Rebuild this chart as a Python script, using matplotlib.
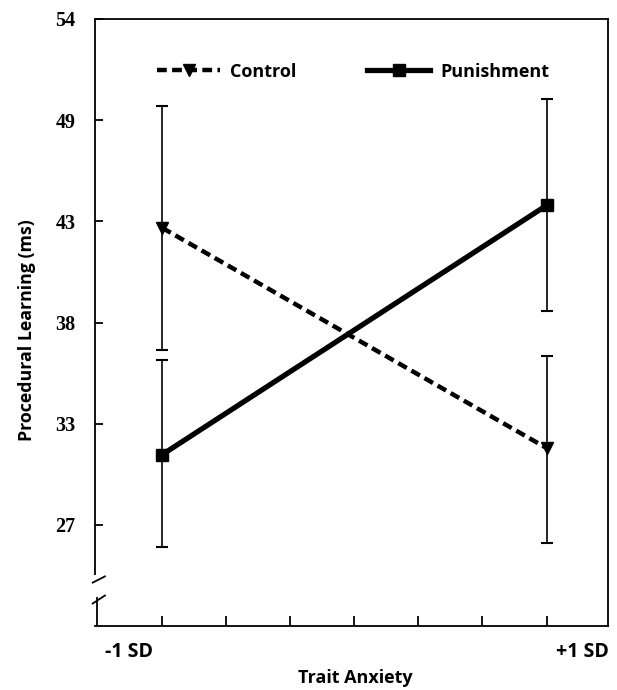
import numpy as np
import matplotlib
matplotlib.use("Agg")
import matplotlib.pyplot as plt

# ---- data ----
x_pos = [-1.0, 1.0]
x_labels = ["-1 SD", "+1 SD"]
control_mean = [42.85, 31.10]
control_low = [36.35, 26.05]
control_high = [49.35, 36.00]
punish_mean = [30.75, 44.05]
punish_low = [25.80, 38.40]
punish_high = [35.80, 49.75]
y_tick_pos = [27.0, 32.4, 37.8, 43.2, 48.6, 54.0]
y_tick_labels = ["27", "33", "38", "43", "49", "54"]
x_minor_ticks = list(np.linspace(-1, 1, 7))

sans = ["Open Sans", "DejaVu Sans"]
serif = ["Liberation Serif", "DejaVu Serif"]

fig = plt.figure(figsize=(6.17, 6.90), dpi=100)
ax = fig.add_axes([95 / 617, 64 / 690, 513 / 617, 607 / 690])

ax.set_xlim(-1.35, 1.32)
ax.set_ylim(21.6, 54.0)

# error bars
for mean, lo, hi in ((control_mean, control_low, control_high),
                     (punish_mean, punish_low, punish_high)):
    m = np.array(mean)
    yerr = [m - np.array(lo), np.array(hi) - m]
    ax.errorbar(x_pos, mean, yerr=yerr, fmt="none", ecolor="black",
                elinewidth=1.2, capsize=4, capthick=1.5, zorder=2)

ax.plot(x_pos, control_mean, color="black", lw=3.2, ls=(0, (2.2, 1.2)),
        marker="v", ms=9, zorder=3, label="Control")
ax.plot(x_pos, punish_mean, color="black", lw=3.8, ls="-",
        marker="s", ms=8, zorder=3, label="Punishment")

leg = ax.legend(loc="upper left", bbox_to_anchor=(0.107, 0.94), ncol=2,
                frameon=False, handlelength=3.5, handletextpad=0.55,
                columnspacing=3.9, borderaxespad=0,
                prop={"family": sans, "weight": "bold", "size": 13})

# spines
for s in ("top", "right", "bottom"):
    ax.spines[s].set_linewidth(1.3)
ax.spines["left"].set_visible(False)
kw = dict(transform=ax.transAxes, color="black", lw=1.3, clip_on=False,
          solid_capstyle="butt")
ax.plot([0, 0], [0.084, 1.0], **kw)
ax.plot([0.004, 0.004], [0.0, 0.048], **kw)
ax.plot([-0.006, 0.021], [0.0708, 0.0824], **kw)
ax.plot([-0.006, 0.021], [0.0362, 0.0511], **kw)

# ticks
ax.set_yticks(y_tick_pos)
ax.set_yticklabels(y_tick_labels, fontfamily=serif, fontweight="bold",
                   fontsize=14.5)
ax.tick_params(axis="y", direction="in", length=6, width=1.3, pad=14)
ax.set_xticks(x_minor_ticks)
ax.set_xticklabels([])
ax.tick_params(axis="x", direction="in", length=7, width=1.3)

offsets = [-0.048, 0.05]
aligns = ["right", "left"]
for xp, lab, off, ha in zip(x_pos, x_labels, offsets, aligns):
    ax.text(xp + off, -0.043, lab, transform=ax.get_xaxis_transform(),
            ha=ha, va="center", fontfamily=sans, fontweight="bold",
            fontsize=14)

fig.text(355 / 617, 1 - 678 / 690, "Trait Anxiety", ha="center",
         va="center", fontfamily=sans, fontweight="bold", fontsize=13)
fig.text(27 / 617, 1 - 330 / 690, "Procedural Learning (ms)", ha="center",
         va="center", rotation=90, fontfamily=sans, fontweight="bold",
         fontsize=12.8)

fig.savefig("out.png", dpi=100)
